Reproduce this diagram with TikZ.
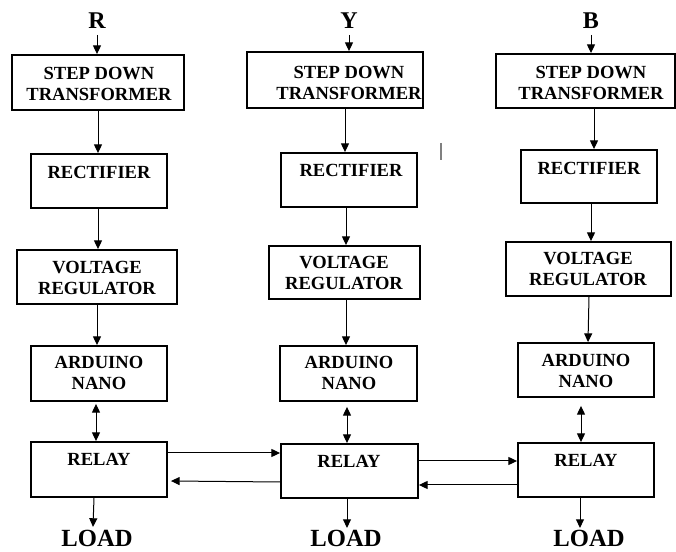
\documentclass[tikz,border=0pt]{standalone}
\usepackage{fontspec}
\setmainfont{Liberation Serif}
\usetikzlibrary{arrows.meta,calc}
\newcommand\mybox[5]{\node[box, minimum width={(#4-#2)*0.75pt}, minimum height={(#5-#3)*0.75pt}] (#1) at ({(#2+#4)/2},{(#3+#5)/2}) {};}
\tikzset{
 box/.style={draw, line width=1.4pt, inner sep=0pt, rectangle},
 txt/.style={font=\bfseries\fontsize{13.9}{15.75}\selectfont, inner sep=0pt, align=center},
 phase/.style={font=\bfseries\fontsize{18}{20}\selectfont, inner sep=0pt},
 loadtxt/.style={font=\bfseries\fontsize{18.5}{20}\selectfont, inner sep=0pt},
 arr/.style={line width=0.75pt, -{Triangle[length=6.5pt,width=6pt]}},
 darr/.style={line width=0.75pt, {Triangle[length=6.5pt,width=6pt]}-{Triangle[length=6.5pt,width=6pt]}},
}
\begin{document}
\begin{tikzpicture}[x=0.75pt,y=-0.75pt]
\useasboundingbox (0,0) rectangle (676,552);
% boxes R column
\mybox{sd1}{12}{55}{184}{110}
\mybox{rc1}{31}{154}{167}{208}
\mybox{vr1}{17}{250}{177}{304}
\mybox{ar1}{31}{346}{167}{401}
\mybox{rl1}{31}{442}{167}{497}
% boxes Y column
\mybox{sd2}{247}{52}{423}{108}
\mybox{rc2}{281}{153}{417}{207}
\mybox{vr2}{269}{246}{420}{299}
\mybox{ar2}{280}{346}{417}{401}
\mybox{rl2}{281}{444}{418}{498}
% boxes B column
\mybox{sd3}{496}{54}{675}{108}
\mybox{rc3}{521}{150}{657}{203}
\mybox{vr3}{506}{242}{671}{296}
\mybox{ar3}{518}{343}{654}{397}
\mybox{rl3}{518}{443}{654}{497}
% texts
\node[txt] (tsd1) at (99,83.5) {STEP DOWN\\TRANSFORMER};
\node[txt] (trc1) at (99,172) {RECTIFIER};
\node[txt] (tvr1) at (97,277.5) {VOLTAGE\\REGULATOR};
\node[txt] (tar1) at (99,372.5) {ARDUINO\\NANO};
\node[txt] (trl1) at (99,459) {RELAY};
\node[txt] (tsd2) at (349,82.5) {STEP DOWN\\TRANSFORMER};
\node[txt] (trc2) at (351,170) {RECTIFIER};
\node[txt] (tvr2) at (344,272.5) {VOLTAGE\\REGULATOR};
\node[txt] (tar2) at (349,373) {ARDUINO\\NANO};
\node[txt] (trl2) at (349,461) {RELAY};
\node[txt] (tsd3) at (591,82.5) {STEP DOWN\\TRANSFORMER};
\node[txt] (trc3) at (589,168) {RECTIFIER};
\node[txt] (tvr3) at (588,269) {VOLTAGE\\REGULATOR};
\node[txt] (tar3) at (586,370.5) {ARDUINO\\NANO};
\node[txt] (trl3) at (586,460) {RELAY};
% phase labels
\node[phase] (lR) at (97,21) {R};
\node[phase] (lY) at (349,21) {Y};
\node[phase] (lB) at (591,21) {B};
% loads
\node[loadtxt] (ld1) at (97,538.5) {LOAD};
\node[loadtxt] (ld2) at (346,538.5) {LOAD};
\node[loadtxt] (ld3) at (589,538.5) {LOAD};
% input arrows
\draw[arr] (lR.south |- 0,35) -- (sd1.north -| lR.south);
\draw[arr] (lY.south |- 0,35) -- (sd2.north -| lY.south);
\draw[arr] (lB.south |- 0,35) -- (sd3.north -| lB.south);
% R column chain
\draw[arr] (sd1.south -| 98,0) -- (rc1.north -| 98,0);
\draw[arr] (rc1.south -| 98,0) -- (vr1.north -| 98,0);
\draw[arr] (vr1.south -| 97,0) -- (ar1.north -| 97,0);
\draw[darr] ($(ar1.south -| 96,0)+(0,2)$) -- (rl1.north -| 96,0);
\draw[arr] (rl1.south -| 94,0) -- ($(ld1.north -| 93,0)+(0,-3)$);
% Y column chain
\draw[arr] (sd2.south -| 345,0) -- (rc2.north -| 345,0);
\draw[arr] (rc2.south -| 346,0) -- (vr2.north -| 346,0);
\draw[arr] (vr2.south -| 346,0) -- (ar2.north -| 346,0);
\draw[darr] ($(ar2.south -| 347,0)+(0,5)$) -- (rl2.north -| 347,0);
\draw[arr] (rl2.south -| 347,0) -- ($(ld2.north -| 347,0)+(0,-2)$);
% B column chain
\draw[arr] (sd3.south -| 594,0) -- (rc3.north -| 594,0);
\draw[arr] (rc3.south -| 591,0) -- (vr3.north -| 591,0);
\draw[arr] (vr3.south -| 589,0) -- (ar3.north -| 588,0);
\draw[darr] ($(ar3.south -| 581,0)+(0,8)$) -- (rl3.north -| 581,0);
\draw[arr] (rl3.south -| 580,0) -- ($(ld3.north -| 580,0)+(0,-2)$);
% relay interconnections
\draw[arr] (rl1.east |- 0,453) -- (rl2.west |- 0,453);
\draw[arr] (rl2.west |- 0,482) -- ($(rl1.east |- 0,481)+(3,0)$);
\draw[arr] (rl2.east |- 0,461) -- (rl3.west |- 0,461);
\draw[arr] ($(rl3.west |- 0,485)+(2,0)$) -- (rl2.east |- 0,485);
% stray mark
\draw[gray, line width=0.8pt] (441,143) -- (441,160);
\end{tikzpicture}
\end{document}
